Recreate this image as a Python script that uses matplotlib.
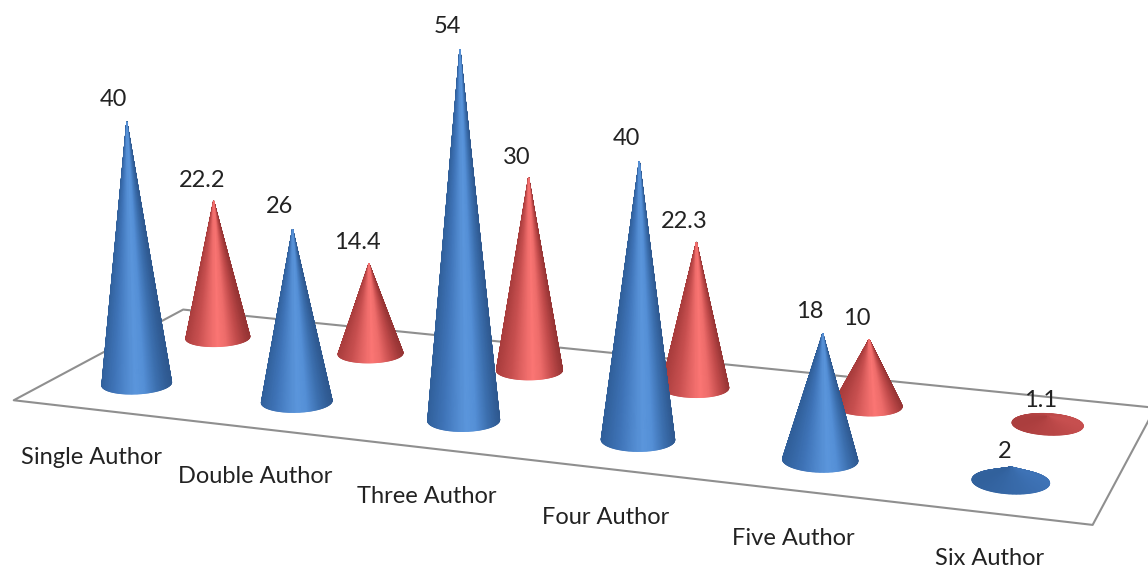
import numpy as np
import matplotlib
matplotlib.use("Agg")
import matplotlib.pyplot as plt
from matplotlib.colors import LinearSegmentedColormap
from mpl_toolkits.mplot3d import proj3d
from mpl_toolkits.mplot3d.art3d import Poly3DCollection

plt.rcParams['font.family'] = ['Lato', 'DejaVu Sans']

categories = ["Single Author", "Double Author", "Three Author", "Four Author", "Five Author", "Six Author"]
series_blue = [40, 26, 54, 40, 18, 2]
series_red = [22.2, 14.4, 30, 22.3, 10, 1.1]

# camera found by fitting to the picture
ELEV, AZIM, FOCAL = 13.3184, -70.2029, np.exp(-0.8365)
BOX = (np.exp(1.6904), np.exp(0.5974), np.exp(0.7182))
SCALE, CX, CY = 6474.36, 581.54, 204.26
W_PX, H_PX = 1148, 568
RADIUS_BLUE = 0.195
RADIUS_RED = 0.19

blue_cmap = LinearSegmentedColormap.from_list("blue", [
    (0.0, "#305f9a"), (0.25, "#3f74b8"), (0.55, "#5b96dc"),
    (0.68, "#548fd6"), (0.85, "#3b6ead"), (1.0, "#2e588f")])
red_cmap = LinearSegmentedColormap.from_list("red", [
    (0.0, "#a83c3c"), (0.25, "#c85050"), (0.55, "#fb7674"),
    (0.68, "#ee6c6a"), (0.85, "#c04a4a"), (1.0, "#963434")])


def draw_cone(ax, x, y, h, radius, cmap, zorder):
    theta = np.linspace(0, 2 * np.pi, 181)
    frac = np.array([0.0, 1.0])
    tt, ff = np.meshgrid(theta, frac)
    xx = x + radius * (1 - ff) * np.cos(tt)
    yy = y + radius * (1 - ff) * np.sin(tt)
    zz = h * ff
    # colour runs across the cone as seen from the camera
    az = np.radians(AZIM)
    mid = tt + np.radians(1)
    across = (-np.sin(az) * np.cos(mid) + np.cos(az) * np.sin(mid) + 1) / 2
    if h < 5:
        # the flat cones stay dark in the reference
        across = 0.02 + across * 0.22
    ax.plot_surface(xx, yy, zz, rstride=1, cstride=1, facecolors=cmap(across),
                    shade=False, linewidth=0.8, zorder=zorder)


def label(ax, x, y, z, text, dx, dy, size):
    u, v, _ = proj3d.proj_transform(x, y, z, ax.get_proj())
    ax.annotate(text, xy=(u, v), xytext=(dx * 0.72, dy * 0.72), textcoords='offset points',
                ha='center', va='center', fontsize=size, color='#222222',
                annotation_clip=False, zorder=10)


fig = plt.figure(figsize=(W_PX / 100, H_PX / 100), dpi=100, facecolor='white')
ax = fig.add_axes([0, 0, H_PX / W_PX, 1], projection='3d')
ax.set_axis_off()
ax.computed_zorder = False
ax.set_xlim(0, 6)
ax.set_ylim(0, 2)
ax.set_zlim(0, 60)
ax.view_init(ELEV, AZIM)
ax.set_proj_type('persp', focal_length=float(FOCAL))
ax.set_box_aspect(BOX)

# place the axes so the projection lands where the reference has it
t0 = ax.transData.transform((0, 0))
t1 = ax.transData.transform((1, 1))
side = SCALE / ((t1[0] - t0[0]) / H_PX)
left = CX - side * t0[0] / H_PX
bottom = H_PX - CY - side * t0[1] / H_PX
ax.set_position([left / W_PX, bottom / H_PX, side / W_PX, side / H_PX])

floor = Poly3DCollection([[(0, 0, 0), (6, 0, 0), (6, 2, 0), (0, 2, 0)]],
                         facecolor='white', edgecolor='#8f8f8f', linewidth=1.5, zorder=1)
ax.add_collection3d(floor)

for i in range(6):
    draw_cone(ax, i + 0.5, 1.5, series_red[i], RADIUS_RED, red_cmap, 2 + i * 0.01)
for i in range(6):
    draw_cone(ax, i + 0.5, 0.5, series_blue[i], RADIUS_BLUE, blue_cmap, 3 + i * 0.01)

for i in range(6):
    flat = i == 5
    label(ax, i + 0.5, 0.5, series_blue[i], str(series_blue[i]), -7 if flat else -13, 16 if flat else 23, 17)
    label(ax, i + 0.5, 1.5, series_red[i], str(series_red[i]), -7 if flat else -12, 16 if flat else 21, 17)
    label(ax, i + 0.5, 0, 0, categories[i], -1, -46 if flat else -49, 17)

fig.savefig("out.png", dpi=100)
